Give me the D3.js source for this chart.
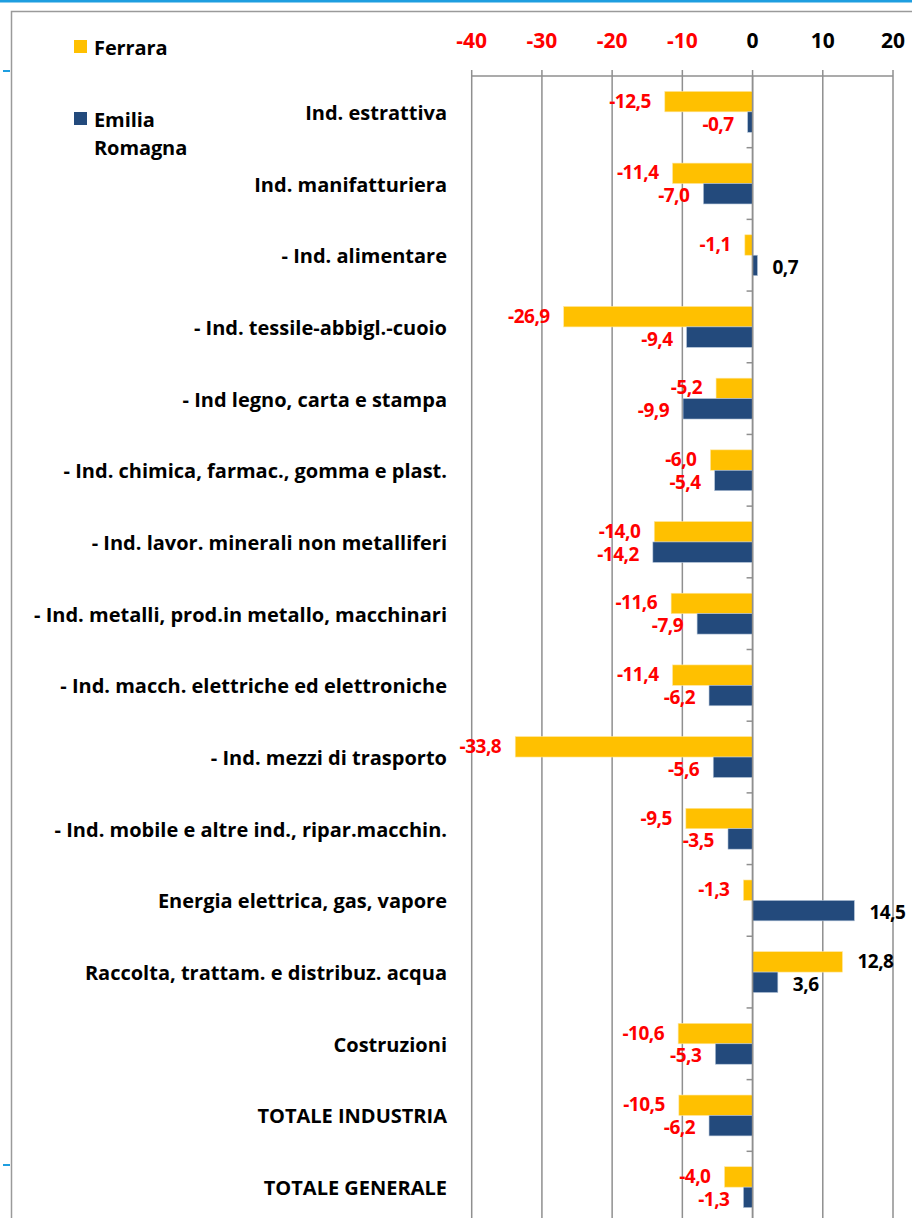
<!DOCTYPE html>
<html>
<head>
<meta charset="utf-8">
<script src="https://cdn.jsdelivr.net/npm/d3@7"></script>
<style>
  body { margin: 0; background: #fff; }
  svg { display: block; font-family: "Open Sans", Lato, sans-serif; font-weight: bold; }
</style>
</head>
<body>
<svg id="chart"></svg>
<script>
// Chart data (variation %, Ferrara vs Emilia Romagna)
const categories = [
  "Ind. estrattiva",
  "Ind. manifatturiera",
  "- Ind. alimentare",
  "- Ind. tessile-abbigl.-cuoio",
  "- Ind legno, carta e stampa",
  "- Ind. chimica, farmac., gomma e plast.",
  "- Ind. lavor. minerali non metalliferi",
  "- Ind. metalli, prod.in metallo, macchinari",
  "- Ind. macch. elettriche ed elettroniche",
  "- Ind. mezzi di trasporto",
  "- Ind. mobile e altre ind., ripar.macchin.",
  "Energia elettrica, gas, vapore",
  "Raccolta, trattam. e distribuz. acqua",
  "Costruzioni",
  "TOTALE INDUSTRIA",
  "TOTALE GENERALE"
];
const ferrara = [-12.5, -11.4, -1.1, -26.9, -5.2, -6.0, -14.0, -11.6, -11.4, -33.8, -9.5, -1.3, 12.8, -10.6, -10.5, -4.0];
const emilia = [-0.7, -7.0, 0.7, -9.4, -9.9, -5.4, -14.2, -7.9, -6.2, -5.6, -3.5, 14.5, 3.6, -5.3, -6.2, -1.3];
const seriesNames = ["Ferrara", "Emilia Romagna"];
const xTicks = [-40, -30, -20, -10, 0, 10, 20];

const WIDTH = 912;
const HEIGHT = 1218;

const YELLOW = "#ffc000";
const BLUE = "#234a7c";
const GRID = "#8f8f8f";
const RED = "#ff0000";

const svg = d3.select("#chart").attr("width", WIDTH).attr("height", HEIGHT);

// slide decoration: blue band at top and small blue marks on the left
svg.append("rect").attr("x", 0).attr("y", 0).attr("width", WIDTH).attr("height", 2.5).attr("fill", "#1e9ee0");
[71, 1165].forEach((y) => {
  svg.append("line").attr("x1", 3).attr("x2", 10).attr("y1", y).attr("y2", y)
    .attr("stroke", "#1e9ee0").attr("stroke-width", 2);
});

// chart frame (its right and bottom edges run off the picture)
svg.append("rect").attr("x", 11.5).attr("y", 11.5).attr("width", 1000).attr("height", 1300)
  .attr("fill", "none").attr("stroke", "#9a9a9a").attr("stroke-width", 1.5);

const plotTop = 76;
const plotBottom = 1223;

const x = d3.scaleLinear().domain([-40, 20]).range([471.7, 893]);
const y = d3.scaleBand().domain(categories).range([plotTop, plotBottom])
  .paddingInner(0.43).paddingOuter(0.215);
const half = y.bandwidth() / 2;

// vertical gridlines
svg.append("g").selectAll("line").data(xTicks).join("line")
  .attr("x1", (d) => x(d)).attr("x2", (d) => x(d))
  .attr("y1", plotTop - 6).attr("y2", HEIGHT)
  .attr("stroke", GRID).attr("stroke-width", 1.5);

// top axis line
svg.append("line").attr("x1", x(-40)).attr("x2", x(20)).attr("y1", plotTop).attr("y2", plotTop)
  .attr("stroke", GRID).attr("stroke-width", 1.5);

// top tick labels, negatives in red
svg.append("g").selectAll("text").data(xTicks).join("text")
  .attr("x", (d) => x(d)).attr("y", 48)
  .attr("text-anchor", "middle")
  .attr("font-size", 21)
  .attr("fill", (d) => (d < 0 ? RED : "#000"))
  .text((d) => d);

// bars
const bars = svg.append("g");
bars.selectAll(".fe").data(ferrara).join("rect")
  .attr("x", (d) => x(Math.min(0, d)))
  .attr("y", (d, i) => y(categories[i]))
  .attr("width", (d) => Math.abs(x(d) - x(0)))
  .attr("height", half)
  .attr("fill", YELLOW).attr("stroke", "#ffe7a0").attr("stroke-width", 0.6);
bars.selectAll(".er").data(emilia).join("rect")
  .attr("x", (d) => x(Math.min(0, d)))
  .attr("y", (d, i) => y(categories[i]) + half)
  .attr("width", (d) => Math.abs(x(d) - x(0)))
  .attr("height", half)
  .attr("fill", BLUE).attr("stroke", "#b4c4d8").attr("stroke-width", 0.6);

// zero axis with category ticks
svg.append("line").attr("x1", x(0)).attr("x2", x(0)).attr("y1", plotTop).attr("y2", HEIGHT)
  .attr("stroke", GRID).attr("stroke-width", 1.5);
const sep = categories.map((c) => y(c) - y.step() * y.paddingInner() / 2).slice(1)
  .concat([plotBottom]);
svg.append("g").selectAll("line").data(sep).join("line")
  .attr("x1", x(0) - 6).attr("x2", x(0)).attr("y1", (d) => d).attr("y2", (d) => d)
  .attr("stroke", GRID).attr("stroke-width", 1.5);

// value labels, Ferrara a touch higher and Emilia a touch lower so they don't collide
const fmt = (v) => v.toFixed(1).replace(".", ",");
const addLabels = (data, offset, shift) => {
  svg.append("g").selectAll("text").data(data).join("text")
    .attr("x", (d) => (d < 0 ? x(d) - 14 : x(d) + 15))
    .attr("y", (d, i) => y(categories[i]) + offset + half / 2 + 7 + shift)
    .attr("text-anchor", (d) => (d < 0 ? "end" : "start"))
    .attr("font-size", 19)
    .attr("letter-spacing", -0.5)
    .attr("fill", (d) => (d < 0 ? RED : "#000"))
    .text(fmt);
};
addLabels(ferrara, 0, -1);
addLabels(emilia, half, 1.5);

// category labels
svg.append("g").selectAll("text").data(categories).join("text")
  .attr("x", 447)
  .attr("y", (d) => y(d) + half + 8)
  .attr("text-anchor", "end")
  .attr("font-size", 20)
  .attr("letter-spacing", 0)
  .attr("fill", "#000")
  .text((d) => d);

// legend
const legend = svg.append("g").attr("font-size", 20).attr("letter-spacing", -0.1);
legend.append("rect").attr("x", 74).attr("y", 40).attr("width", 13).attr("height", 13).attr("fill", YELLOW);
legend.append("text").attr("x", 94).attr("y", 55).text(seriesNames[0]);
legend.append("rect").attr("x", 74).attr("y", 112).attr("width", 13).attr("height", 13).attr("fill", BLUE);
legend.append("text").attr("x", 94).attr("y", 127).text("Emilia");
legend.append("text").attr("x", 94).attr("y", 155).text("Romagna");
</script>
</body>
</html>
